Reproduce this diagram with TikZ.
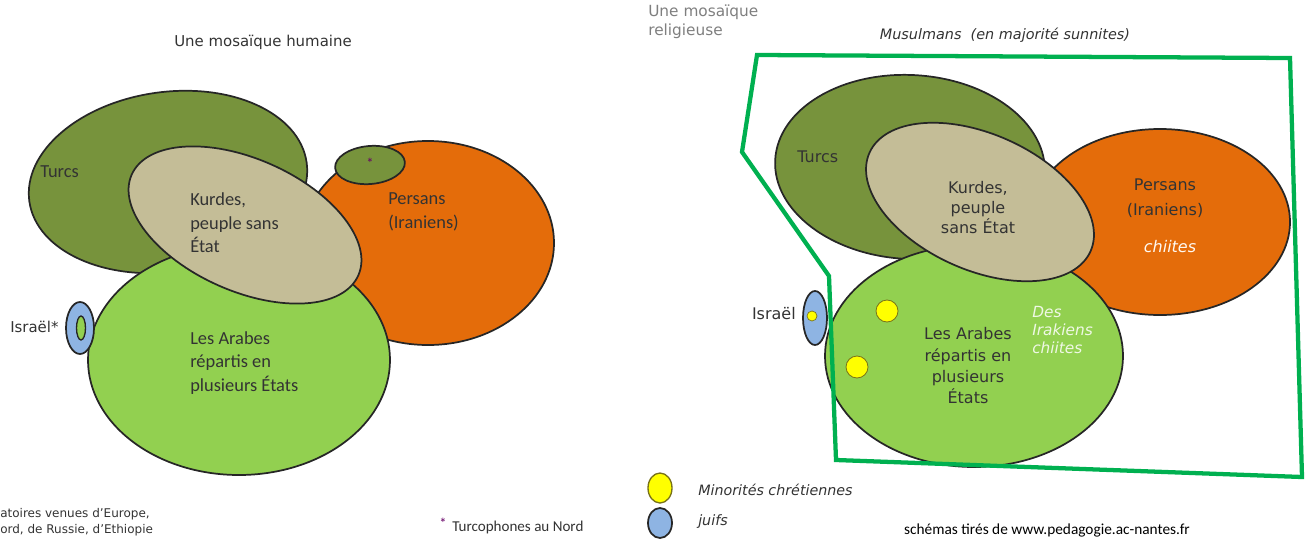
\documentclass[tikz,border=0pt]{standalone}
\usepackage{fontspec}
\setmainfont{Carlito}
\newfontfamily\verd{DejaVu Sans}
\usetikzlibrary{positioning}

\definecolor{turcs}{HTML}{77933C}
\definecolor{kurdes}{HTML}{C4BD97}
\definecolor{persans}{HTML}{E46C0A}
\definecolor{arabes}{HTML}{92D050}
\definecolor{juifs}{HTML}{8EB4E3}
\definecolor{sunnites}{HTML}{00B050}
\definecolor{chretiens}{HTML}{FFFF00}
\definecolor{txt}{HTML}{333333}
\definecolor{gristxt}{HTML}{7F7F7F}

\tikzset{
  peuple/.style={draw=black!85, line width=1.3pt},
  lbl/.style={text=txt, align=left, anchor=west, inner sep=0pt, font=\fontsize{13.8}{17.5}\selectfont},
  vlbl/.style={text=txt, align=center, inner sep=0pt, font=\verd\fontsize{12}{15}\selectfont},
}

\begin{document}
\begin{tikzpicture}[x=0.75pt, y=-0.75pt]
			%%%%% START %%%%%
			\clip (0,0) rectangle (1310,539);
			
			% mosaique humaine
			\node[text=txt, inner sep=0pt, font=\verd\fontsize{11.2}{13}\selectfont] (titreH) at (263,42) {Une mosaïque humaine};
			
			\draw[peuple, fill=turcs] (168,182) ellipse [x radius=140, y radius=90, rotate=8];
			\draw[peuple, fill=persans] (428,243) ellipse [x radius=126, y radius=102];
			\draw[peuple, fill=turcs] (370,165) ellipse [x radius=35, y radius=19, rotate=5];
			\draw[peuple, fill=arabes] (239,360) ellipse [x radius=151, y radius=115];
			\draw[peuple, fill=kurdes] (245,225) ellipse [x radius=124, y radius=66, rotate=-24];
			\draw[peuple, fill=juifs] (80,328) ellipse [x radius=14, y radius=26];
			\draw[peuple, line width=1pt, fill=arabes] (81,328) ellipse [x radius=4.5, y radius=12];
			
			\node[text=violet!80!black, inner sep=0pt, font=\fontsize{11}{12}\selectfont] (astH) at (370,163) {*};
			\node[lbl] (turcsH) at (40,172) {Turcs};
			\node[lbl] (kurdesH) at (190,223) {Kurdes,\\peuple sans\\État};
			\node[lbl] (persansH) at (388,212) {Persans\\(Iraniens)};
			\node[lbl] (arabesH) at (190,363) {Les Arabes\\répartis en\\plusieurs États};
			\node[text=txt, anchor=west, inner sep=0pt, font=\verd\fontsize{11.2}{12}\selectfont] (israelH) at (10,327) {Israël*};
			
			\node[text=txt, anchor=west, align=left, inner sep=0pt, font=\verd\fontsize{9}{12.3}\selectfont] (migrants) at (0,522) {atoires venues d’Europe,\\ord, de Russie, d’Ethiopie};
			\node[text=violet!80!black, inner sep=0pt, font=\fontsize{11}{12}\selectfont] (astNote) at (443,523) {*};
			\node[text=txt, anchor=west, inner sep=0pt, font=\fontsize{11.3}{12}\selectfont] (turcophones) at (452,527) {Turcophones au Nord};
			
			% mosaique religieuse
			\node[text=gristxt, anchor=west, align=left, inner sep=0pt, font=\verd\fontsize{11.5}{14.5}\selectfont] (titreR) at (648,22) {Une mosaïque\\religieuse};
			\node[text=txt, inner sep=0pt, font=\verd\itshape\fontsize{10.8}{12}\selectfont] (musulmans) at (1005,35) {Musulmans\ \ (en majorité sunnites)};
			
			\draw[peuple, fill=turcs] (910,167) ellipse [x radius=135, y radius=92, rotate=-3];
			\draw[peuple, fill=persans] (1160,222) ellipse [x radius=130, y radius=93];
			\draw[peuple, fill=juifs] (815,318) ellipse [x radius=12, y radius=27];
			\draw[peuple, fill=arabes] (974,356) ellipse [x radius=149, y radius=111];
			\draw[peuple, fill=kurdes] (980,202) ellipse [x radius=121, y radius=68, rotate=-24];
			
			\draw[draw=olive!80!black, line width=0.6pt, fill=chretiens] (887,311) circle [radius=11];
			\draw[draw=olive!80!black, line width=0.6pt, fill=chretiens] (857,367) circle [radius=11];
			\draw[draw=olive!80!black, line width=0.5pt, fill=chretiens] (812,316) circle [radius=5];
			
			\draw[sunnites, line width=3.2pt, line join=miter] (757,55) -- (1290,58) -- (1302,477) -- (836,460) -- (829,276) -- (742,152) -- cycle;
			
			\node[vlbl, anchor=west] (turcsR) at (797,157) {Turcs};
			\node[vlbl] (kurdesR) at (978,208) {Kurdes,\\peuple\\sans État};
			\node[vlbl, font=\verd\fontsize{12}{18.5}\selectfont] (persansR) at (1165,198) {Persans\\(Iraniens)};
			\node[vlbl, text=white!95!orange, font=\verd\itshape\fontsize{12}{12}\selectfont] (chiitesP) at (1170,247) {chiites};
			\node[vlbl, font=\verd\fontsize{12}{16}\selectfont] (arabesR) at (968,366) {Les Arabes\\répartis en\\plusieurs\\États};
			\node[vlbl, anchor=west, align=left, text=white!85!arabes, font=\verd\itshape\fontsize{11.5}{13.5}\selectfont] (irakiens) at (1032,330) {Des\\Irakiens\\chiites};
			\node[vlbl, anchor=east] (israelR) at (796,314) {Israël};
			
			% legende
			\draw[peuple, line width=1pt, draw=olive!80!black, fill=chretiens] (660,488) ellipse [x radius=12, y radius=15];
			\draw[peuple, line width=1.3pt, fill=juifs] (660,523) ellipse [x radius=12, y radius=15];
			\node[text=txt, anchor=west, inner sep=0pt, font=\verd\itshape\fontsize{10.7}{12}\selectfont] (legChret) at (698,490) {Minorités chrétiennes};
			\node[text=txt, anchor=west, inner sep=0pt, font=\verd\itshape\fontsize{10.7}{12}\selectfont] (legJuifs) at (698,522) {juifs};
			\node[text=black, inner sep=0pt, font=\fontsize{11.5}{12}\selectfont] (source) at (1047,530) {schémas tirés de www.pedagogie.ac-nantes.fr};
			
			%%%%% END %%%%%
\end{tikzpicture}
\end{document}
